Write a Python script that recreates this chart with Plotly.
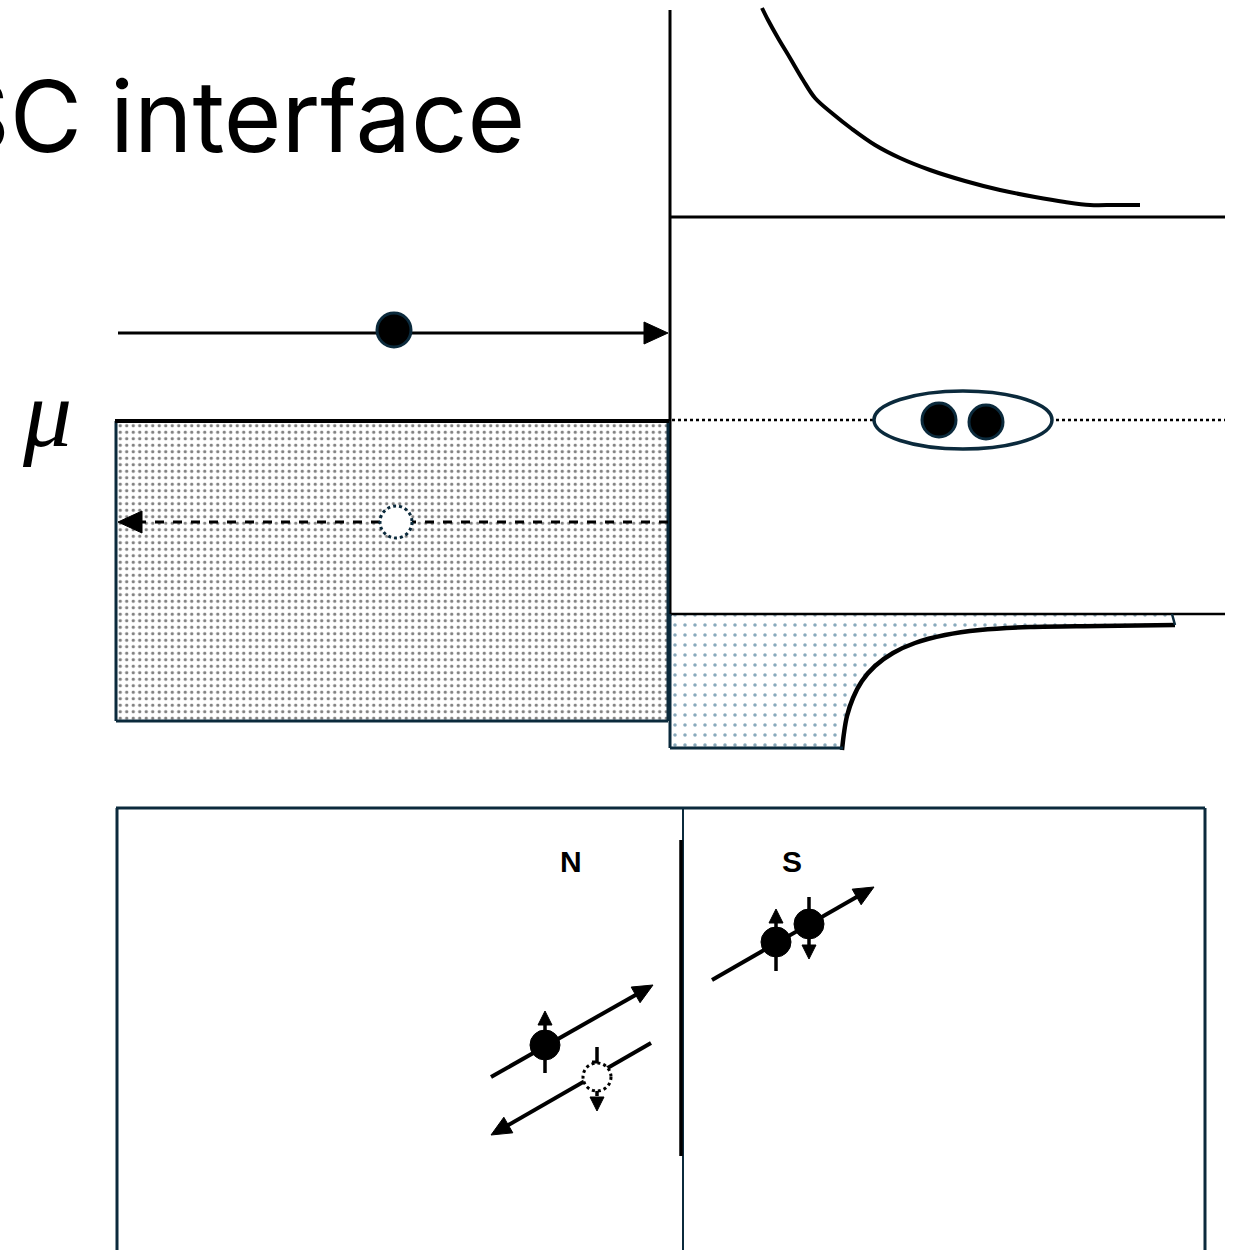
import math
import plotly.graph_objects as go

W, H = 1238, 1250
INK = "#000000"
TEAL = "#0b2a3c"
DOT_TEAL = "#14567a"

# --- diagram data (pixel-space coordinates of the sketch) ---
title_text = "N/SC interface"
mu_label = "μ"
region_labels = ["N", "S"]

# decaying curve in the upper-right panel
top_curve_x = [762, 768, 778, 790, 803, 815, 833, 852, 875, 900, 930, 965, 1000, 1035, 1065, 1090, 1115, 1140]
top_curve_y = [8, 20, 38, 58, 80, 98, 114, 129, 145, 158, 170, 181, 190, 197, 202, 205, 205, 205]

# left (normal metal) filled band
left_box_x = [116, 668, 668, 116, 116]
left_box_y = [421, 421, 720, 720, 421]

# right (superconductor) density-of-states filled region
sc_curve_x = [1175, 1100, 1030, 980, 945, 915, 893, 875, 862, 853, 847, 844, 842]
sc_curve_y = [625, 626, 627, 630, 635, 643, 653, 666, 681, 698, 716, 733, 750]
sc_region_x = [670, 1172] + sc_curve_x + [670, 670]
sc_region_y = [614, 614] + sc_curve_y + [748, 614]

fig = go.Figure()

# dotted pattern fills
fig.add_trace(go.Scatter(
    x=left_box_x, y=left_box_y, mode="lines", fill="toself",
    line=dict(width=0, color="rgba(0,0,0,0)"),
    fillpattern=dict(shape=".", size=6.5, solidity=0.2, fgcolor=INK, bgcolor="white"),
    hoverinfo="skip", showlegend=False))
fig.add_trace(go.Scatter(
    x=sc_region_x, y=sc_region_y, mode="lines", fill="toself",
    line=dict(width=0, color="rgba(0,0,0,0)"),
    fillpattern=dict(shape=".", size=10, solidity=0.1, fgcolor=DOT_TEAL, bgcolor="white"),
    hoverinfo="skip", showlegend=False))

# curves
fig.add_trace(go.Scatter(x=top_curve_x, y=top_curve_y, mode="lines",
                         line=dict(color=INK, width=4, shape="spline"),
                         hoverinfo="skip", showlegend=False))
fig.add_trace(go.Scatter(x=sc_curve_x, y=sc_curve_y, mode="lines",
                         line=dict(color=INK, width=4.5, shape="spline"),
                         hoverinfo="skip", showlegend=False))

shapes = []


def line(x0, y0, x1, y1, color=INK, width=3, dash=None, layer="above"):
    d = dict(type="line", x0=x0, y0=y0, x1=x1, y1=y1, xref="x", yref="y",
             line=dict(color=color, width=width), layer=layer)
    if dash:
        d["line"]["dash"] = dash
    shapes.append(d)


def head(xt, yt, xs, ys, length, half):
    dx, dy = xt - xs, yt - ys
    n = math.hypot(dx, dy)
    ux, uy = dx / n, dy / n
    bx, by = xt - ux * length, yt - uy * length
    px, py = -uy * half, ux * half
    path = f"M {xt},{yt} L {bx + px},{by + py} L {bx - px},{by - py} Z"
    shapes.append(dict(type="path", path=path, xref="x", yref="y",
                       fillcolor=INK, line=dict(color=INK, width=1), layer="above"))


def arrow(xs, ys, xt, yt, width=3, length=22, half=10, dash=None):
    n = math.hypot(xt - xs, yt - ys)
    ex = xt - (xt - xs) / n * (length * 0.8)
    ey = yt - (yt - ys) / n * (length * 0.8)
    line(xs, ys, ex, ey, width=width, dash=dash)
    head(xt, yt, xs, ys, length, half)


def circle(cx, cy, rx, ry, fill, lcolor=TEAL, lw=3, dash=None):
    d = dict(type="circle", x0=cx - rx, x1=cx + rx, y0=cy - ry, y1=cy + ry,
             xref="x", yref="y", fillcolor=fill, line=dict(color=lcolor, width=lw),
             layer="above")
    if dash:
        d["line"]["dash"] = dash
    shapes.append(d)


# axes of the energy diagram
line(670, 10, 670, 616, width=3)
line(670, 217, 1225, 217, width=3)
line(670, 614, 1225, 614, width=2.5)
line(1172, 614, 1175, 625, color=TEAL, width=2.5)

# left box border
line(116, 721, 668, 721, color=TEAL, width=3)
line(116, 421, 116, 721, color=TEAL, width=3)
line(668, 421, 668, 721, color=TEAL, width=3)
line(115, 421, 669, 421, color=INK, width=4)

# right region border
line(670, 614, 670, 748, color=TEAL, width=3)
line(670, 748, 843, 748, color=TEAL, width=3)

# Fermi level dotted line + Cooper pair ellipse
line(672, 420, 1225, 420, width=2.5, dash="dot")
circle(963, 420, 89, 29, "white", TEAL, 3.5)
circle(939, 420, 17, 17, INK, TEAL, 3)
circle(986, 422, 17, 17, INK, TEAL, 3)

# incoming electron arrow
arrow(118, 333, 668, 333, width=3, length=24, half=11)
circle(394, 330, 17, 17, INK, TEAL, 3)

# reflected hole dashed arrow
arrow(668, 522, 118, 522, width=3, length=24, half=11, dash="dash")
circle(396, 522, 16, 16, "white", TEAL, 3, dash="dot")

# bottom panel frame
line(116, 808, 1205, 808, color=TEAL, width=3)
line(117, 808, 117, 1252, color=TEAL, width=3)
line(1205, 808, 1205, 1252, color=TEAL, width=3)
line(683, 808, 683, 1252, color=TEAL, width=2)
line(681, 840, 681, 1156, color=INK, width=3.5)

# N side: electron in, hole out
arrow(491, 1077, 653, 985, width=4, length=20, half=9)
arrow(651, 1043, 491, 1135, width=4, length=20, half=9)
line(545, 1073, 545, 1024, width=3.5)
head(545, 1011, 545, 1030, 14, 7)
circle(545, 1045, 15, 15, INK, INK, 1)
line(597, 1047, 597, 1096, width=3.5)
head(597, 1111, 597, 1090, 14, 7)
circle(597, 1077, 14, 14, "white", INK, 3, dash="dot")
line(592, 1062, 598, 1062, width=3)

# S side: Cooper pair moving in
arrow(712, 980, 874, 887, width=4, length=20, half=9)
line(776, 971, 776, 922, width=3.5)
head(776, 909, 776, 928, 14, 7)
circle(776, 942, 15, 15, INK, INK, 1)
line(809, 897, 809, 946, width=3.5)
head(809, 959, 809, 940, 14, 7)
circle(809, 924, 15, 15, INK, INK, 1)

annotations = [
    dict(x=527, y=116, xref="x", yref="y", text=title_text, showarrow=False,
         xanchor="right", yanchor="middle",
         font=dict(family="Inter, Roboto, sans-serif", size=99, color=INK)),
    dict(x=47, y=413, xref="x", yref="y", text=f"<i>{mu_label}</i>", showarrow=False,
         xanchor="center", yanchor="middle",
         font=dict(family="Liberation Serif, DejaVu Serif, serif", size=98, color=INK)),
    dict(x=571, y=861, xref="x", yref="y", text=f"<b>{region_labels[0]}</b>", showarrow=False,
         xanchor="center", yanchor="middle",
         font=dict(family="Liberation Sans, Arial, sans-serif", size=30, color=INK)),
    dict(x=792, y=861, xref="x", yref="y", text=f"<b>{region_labels[1]}</b>", showarrow=False,
         xanchor="center", yanchor="middle",
         font=dict(family="Liberation Sans, Arial, sans-serif", size=30, color=INK)),
]

fig.update_layout(
    width=W, height=H, margin=dict(l=0, r=0, t=0, b=0),
    paper_bgcolor="white", plot_bgcolor="white",
    xaxis=dict(range=[0, W], visible=False, fixedrange=True),
    yaxis=dict(range=[H, 0], visible=False, fixedrange=True),
    shapes=shapes, annotations=annotations, showlegend=False,
)

fig.write_html("out.html", config={"displayModeBar": False},
               post_script="document.body.style.margin='0';")
